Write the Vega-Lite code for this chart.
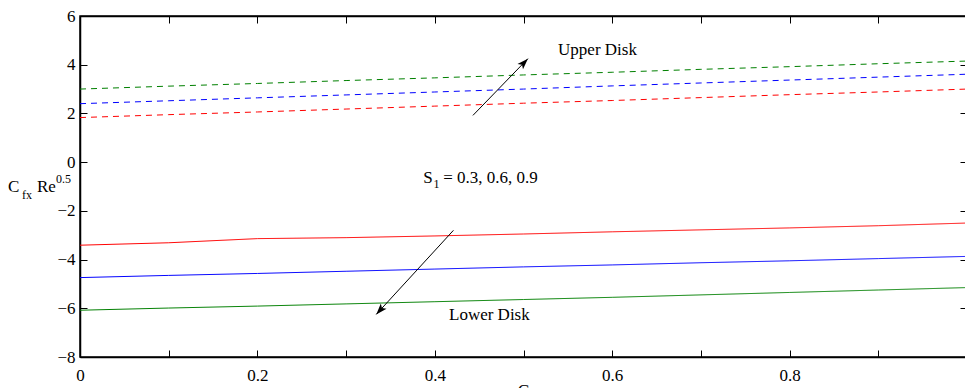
{
  "$schema": "https://vega.github.io/schema/vega-lite/v6.json",
  "width": 887,
  "height": 341,
  "autosize": {"type": "none"},
  "padding": {"left": 80, "top": 16, "right": 0, "bottom": 32},
  "background": "white",
  "config": {
    "view": {"stroke": "black", "strokeWidth": 1.5},
    "font": "Liberation Serif",
    "text": {"font": "Liberation Serif"},
    "axis": {
      "domainColor": "black",
      "domainWidth": 1.5,
      "tickColor": "black",
      "tickWidth": 1,
      "tickSize": -7,
      "grid": false,
      "labelFont": "Liberation Serif",
      "labelFontSize": 17,
      "labelFontWeight": "normal",
      "labelColor": "black",
      "titleFont": "Liberation Serif",
      "titleFontSize": 17,
      "titleFontWeight": "normal",
      "titleColor": "black"
    }
  },
  "datasets": {
    "curves": [
      {"G": 0.0, "C": 3.00, "S1": "0.9", "disk": "Upper"},
      {"G": 0.1, "C": 3.12, "S1": "0.9", "disk": "Upper"},
      {"G": 0.2, "C": 3.23, "S1": "0.9", "disk": "Upper"},
      {"G": 0.3, "C": 3.35, "S1": "0.9", "disk": "Upper"},
      {"G": 0.4, "C": 3.46, "S1": "0.9", "disk": "Upper"},
      {"G": 0.5, "C": 3.58, "S1": "0.9", "disk": "Upper"},
      {"G": 0.6, "C": 3.69, "S1": "0.9", "disk": "Upper"},
      {"G": 0.7, "C": 3.81, "S1": "0.9", "disk": "Upper"},
      {"G": 0.8, "C": 3.92, "S1": "0.9", "disk": "Upper"},
      {"G": 0.9, "C": 4.04, "S1": "0.9", "disk": "Upper"},
      {"G": 1.0, "C": 4.15, "S1": "0.9", "disk": "Upper"},
      {"G": 0.0, "C": 2.40, "S1": "0.6", "disk": "Upper"},
      {"G": 0.1, "C": 2.52, "S1": "0.6", "disk": "Upper"},
      {"G": 0.2, "C": 2.64, "S1": "0.6", "disk": "Upper"},
      {"G": 0.3, "C": 2.76, "S1": "0.6", "disk": "Upper"},
      {"G": 0.4, "C": 2.88, "S1": "0.6", "disk": "Upper"},
      {"G": 0.5, "C": 3.00, "S1": "0.6", "disk": "Upper"},
      {"G": 0.6, "C": 3.13, "S1": "0.6", "disk": "Upper"},
      {"G": 0.7, "C": 3.25, "S1": "0.6", "disk": "Upper"},
      {"G": 0.8, "C": 3.37, "S1": "0.6", "disk": "Upper"},
      {"G": 0.9, "C": 3.49, "S1": "0.6", "disk": "Upper"},
      {"G": 1.0, "C": 3.61, "S1": "0.6", "disk": "Upper"},
      {"G": 0.0, "C": 1.83, "S1": "0.3", "disk": "Upper"},
      {"G": 0.1, "C": 1.95, "S1": "0.3", "disk": "Upper"},
      {"G": 0.2, "C": 2.06, "S1": "0.3", "disk": "Upper"},
      {"G": 0.3, "C": 2.18, "S1": "0.3", "disk": "Upper"},
      {"G": 0.4, "C": 2.30, "S1": "0.3", "disk": "Upper"},
      {"G": 0.5, "C": 2.42, "S1": "0.3", "disk": "Upper"},
      {"G": 0.6, "C": 2.53, "S1": "0.3", "disk": "Upper"},
      {"G": 0.7, "C": 2.65, "S1": "0.3", "disk": "Upper"},
      {"G": 0.8, "C": 2.77, "S1": "0.3", "disk": "Upper"},
      {"G": 0.9, "C": 2.88, "S1": "0.3", "disk": "Upper"},
      {"G": 1.0, "C": 3.00, "S1": "0.3", "disk": "Upper"},
      {"G": 0.0, "C": -3.41, "S1": "0.3", "disk": "Lower"},
      {"G": 0.1, "C": -3.31, "S1": "0.3", "disk": "Lower"},
      {"G": 0.2, "C": -3.14, "S1": "0.3", "disk": "Lower"},
      {"G": 0.3, "C": -3.10, "S1": "0.3", "disk": "Lower"},
      {"G": 0.4, "C": -3.03, "S1": "0.3", "disk": "Lower"},
      {"G": 0.5, "C": -2.95, "S1": "0.3", "disk": "Lower"},
      {"G": 0.6, "C": -2.86, "S1": "0.3", "disk": "Lower"},
      {"G": 0.7, "C": -2.78, "S1": "0.3", "disk": "Lower"},
      {"G": 0.8, "C": -2.70, "S1": "0.3", "disk": "Lower"},
      {"G": 0.9, "C": -2.61, "S1": "0.3", "disk": "Lower"},
      {"G": 1.0, "C": -2.50, "S1": "0.3", "disk": "Lower"},
      {"G": 0.0, "C": -4.74, "S1": "0.6", "disk": "Lower"},
      {"G": 0.1, "C": -4.65, "S1": "0.6", "disk": "Lower"},
      {"G": 0.2, "C": -4.57, "S1": "0.6", "disk": "Lower"},
      {"G": 0.3, "C": -4.48, "S1": "0.6", "disk": "Lower"},
      {"G": 0.4, "C": -4.39, "S1": "0.6", "disk": "Lower"},
      {"G": 0.5, "C": -4.30, "S1": "0.6", "disk": "Lower"},
      {"G": 0.6, "C": -4.22, "S1": "0.6", "disk": "Lower"},
      {"G": 0.7, "C": -4.13, "S1": "0.6", "disk": "Lower"},
      {"G": 0.8, "C": -4.05, "S1": "0.6", "disk": "Lower"},
      {"G": 0.9, "C": -3.96, "S1": "0.6", "disk": "Lower"},
      {"G": 1.0, "C": -3.87, "S1": "0.6", "disk": "Lower"},
      {"G": 0.0, "C": -6.08, "S1": "0.9", "disk": "Lower"},
      {"G": 0.1, "C": -5.99, "S1": "0.9", "disk": "Lower"},
      {"G": 0.2, "C": -5.91, "S1": "0.9", "disk": "Lower"},
      {"G": 0.3, "C": -5.82, "S1": "0.9", "disk": "Lower"},
      {"G": 0.4, "C": -5.73, "S1": "0.9", "disk": "Lower"},
      {"G": 0.5, "C": -5.64, "S1": "0.9", "disk": "Lower"},
      {"G": 0.6, "C": -5.55, "S1": "0.9", "disk": "Lower"},
      {"G": 0.7, "C": -5.45, "S1": "0.9", "disk": "Lower"},
      {"G": 0.8, "C": -5.35, "S1": "0.9", "disk": "Lower"},
      {"G": 0.9, "C": -5.25, "S1": "0.9", "disk": "Lower"},
      {"G": 1.0, "C": -5.15, "S1": "0.9", "disk": "Lower"}
    ],
    "arrows": [
      {"x": 0.443, "y": 1.92, "x2": 0.505, "y2": 4.25, "dir": "up"},
      {"x": 0.421, "y": -2.80, "x2": 0.334, "y2": -6.25, "dir": "down"}
    ],
    "notes": [
      {"x": 0.539, "y": 4.39, "text": "Upper Disk", "role": "main"},
      {"x": 0.416, "y": -6.49, "text": "Lower Disk", "role": "main"},
      {"x": 0.387, "y": -0.87, "text": "S", "role": "main"},
      {"x": 0.3985, "y": -1.07, "text": "1", "role": "script"},
      {"x": 0.4095, "y": -0.87, "text": "= 0.3, 0.6, 0.9", "role": "main"},
      {"x": -0.0812, "y": -1.237, "text": "C", "role": "main"},
      {"x": -0.0655, "y": -1.524, "text": "fx", "role": "script"},
      {"x": -0.0485, "y": -1.237, "text": "Re", "role": "main"},
      {"x": -0.0271, "y": -0.836, "text": "0.5", "role": "script"}
    ]
  },
  "resolve": {"axis": {"x": "independent", "y": "independent"}},
  "layer": [
    {
      "data": {"name": "curves"},
      "mark": {"type": "line", "strokeWidth": 1, "clip": true},
      "encoding": {
        "x": {
          "field": "G", "type": "quantitative",
          "scale": {"domain": [0, 1], "nice": false, "zero": false},
          "axis": {
            "orient": "bottom",
            "values": [0, 0.1, 0.2, 0.3, 0.4, 0.5, 0.6, 0.7, 0.8, 0.9, 1.0],
            "format": ".1~f",
            "labelExpr": "(round(datum.value*10) % 2 == 0 && datum.value < 0.95) ? datum.label : ''",
            "labelFont": "Liberation Serif",
            "labelFontWeight": "normal",
            "labelFontSize": 17,
            "labelPadding": 17,
            "labelFlush": false,
            "labelOverlap": false,
            "title": "G",
            "titleFont": "Liberation Serif",
            "titleFontWeight": "normal",
            "titleBaseline": "top",
            "titleY": 25
          }
        },
        "y": {
          "field": "C", "type": "quantitative",
          "scale": {"domain": [-8, 6], "nice": false, "zero": false},
          "axis": {
            "orient": "left",
            "values": [-8, -6, -4, -2, 0, 2, 4, 6],
            "labelFont": "Liberation Serif",
            "labelFontWeight": "normal",
            "labelFontSize": 17,
            "labelPadding": 12,
            "labelFlush": false,
            "labelOverlap": false,
            "title": null
          }
        },
        "color": {
          "field": "S1", "type": "nominal",
          "scale": {"domain": ["0.3", "0.6", "0.9"], "range": ["#ff0000", "#0000ff", "#008000"]},
          "legend": null
        },
        "strokeDash": {
          "field": "disk", "type": "nominal",
          "scale": {"domain": ["Upper", "Lower"], "range": [[6, 5], [1, 0]]},
          "legend": null
        },
        "detail": {"field": "disk", "type": "nominal"}
      }
    },
    {
      "data": {"name": "arrows"},
      "mark": {"type": "rule", "color": "black", "strokeWidth": 1},
      "encoding": {
        "x": {
          "field": "x", "type": "quantitative",
          "scale": {"domain": [0, 1], "nice": false, "zero": false},
          "axis": {
            "orient": "top",
            "values": [0, 0.1, 0.2, 0.3, 0.4, 0.5, 0.6, 0.7, 0.8, 0.9, 1.0],
            "labels": false,
            "title": null
          }
        },
        "y": {
          "field": "y", "type": "quantitative",
          "scale": {"domain": [-8, 6], "nice": false, "zero": false},
          "axis": {
            "orient": "right",
            "values": [-8, -6, -4, -2, 0, 2, 4, 6],
            "labels": false,
            "title": null
          }
        },
        "x2": {"field": "x2"},
        "y2": {"field": "y2"}
      }
    },
    {
      "data": {"name": "arrows"},
      "mark": {
        "type": "point",
        "shape": "M0,0L-0.45,1.3L0,1L0.45,1.3Z",
        "filled": true,
        "color": "black",
        "opacity": 1,
        "size": 290,
        "strokeWidth": 0
      },
      "encoding": {
        "x": {"field": "x2", "type": "quantitative", "scale": {"domain": [0, 1], "nice": false, "zero": false}, "axis": null},
        "y": {"field": "y2", "type": "quantitative", "scale": {"domain": [-8, 6], "nice": false, "zero": false}, "axis": null},
        "angle": {
          "field": "dir", "type": "nominal",
          "scale": {"domain": ["up", "down"], "range": [44, 222]},
          "legend": null
        }
      }
    },
    {
      "data": {"name": "notes"},
      "transform": [{"filter": "datum.role == 'main'"}],
      "mark": {"type": "text", "align": "left", "baseline": "alphabetic", "font": "Liberation Serif", "fontSize": 17, "color": "black"},
      "encoding": {
        "x": {"field": "x", "type": "quantitative", "scale": {"domain": [0, 1], "nice": false, "zero": false}, "axis": null},
        "y": {"field": "y", "type": "quantitative", "scale": {"domain": [-8, 6], "nice": false, "zero": false}, "axis": null},
        "text": {"field": "text", "type": "nominal"}
      }
    },
    {
      "data": {"name": "notes"},
      "transform": [{"filter": "datum.role == 'script'"}],
      "mark": {"type": "text", "align": "left", "baseline": "alphabetic", "font": "Liberation Serif", "fontSize": 12, "color": "black"},
      "encoding": {
        "x": {"field": "x", "type": "quantitative", "scale": {"domain": [0, 1], "nice": false, "zero": false}, "axis": null},
        "y": {"field": "y", "type": "quantitative", "scale": {"domain": [-8, 6], "nice": false, "zero": false}, "axis": null},
        "text": {"field": "text", "type": "nominal"}
      }
    }
  ]
}
